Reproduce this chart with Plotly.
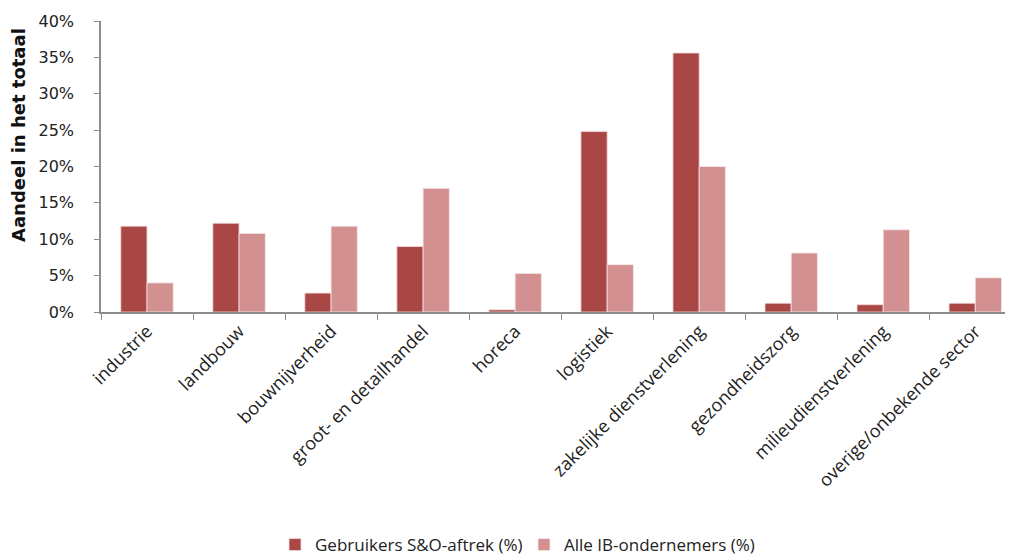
import plotly.graph_objects as go

# Sectoren en aandelen (%)
sectoren = ["industrie", "landbouw", "bouwnijverheid", "groot- en detailhandel", "horeca",
            "logistiek", "zakelijke dienstverlening", "gezondheidszorg",
            "milieudienstverlening", "overige/onbekende sector"]
gebruikers_so = [11.8, 12.2, 2.6, 9.0, 0.3, 24.8, 35.6, 1.2, 1.0, 1.2]
alle_ib = [4.0, 10.8, 11.8, 17.0, 5.3, 6.5, 20.0, 8.1, 11.3, 4.7]
y_ticks = [0, 5, 10, 15, 20, 25, 30, 35, 40]

fig = go.Figure()
fig.add_trace(go.Bar(x=sectoren, y=gebruikers_so, name="Gebruikers S&O-aftrek (%)",
                     marker=dict(color="#A94744", line=dict(color="#F2DADA", width=0.8))))
fig.add_trace(go.Bar(x=sectoren, y=alle_ib, name="Alle IB-ondernemers (%)",
                     marker=dict(color="#D29090", line=dict(color="#F6E6E6", width=0.8))))

# pagina heeft 8px body-marge, dus figuur 8px kleiner
fig.update_layout(
    width=1005, height=549,
    margin=dict(l=93, r=0, t=13, b=245, autoexpand=False),
    plot_bgcolor="white", paper_bgcolor="white",
    barmode="group", bargap=0.43, bargroupgap=0,
    font=dict(family="DejaVu Sans", color="#222"),
    showlegend=True,
    legend=dict(orientation="h", x=(275 - 101) / 912, xanchor="left",
                y=(312 - 545) / 291, yanchor="middle",
                font=dict(family="Open Sans", size=17, color="#222"),
                entrywidth=204, entrywidthmode="pixels", itemwidth=30, traceorder="normal"),
    xaxis=dict(range=[-0.5, 9.41], showline=True, linecolor="#8c8c8c", linewidth=1.5,
               ticks="outside", tickson="boundaries", ticklen=6, tickcolor="#8c8c8c",
               tickangle=-45, tickfont=dict(family="Open Sans", size=18, color="#222"),
               showgrid=False, automargin=False),
    yaxis=dict(range=[0, 40], tickvals=y_ticks, ticktext=[f"{v}%" for v in y_ticks],
               showline=True, linecolor="#8c8c8c", linewidth=1.5, ticks="outside",
               ticklen=5, tickcolor="#8c8c8c", showgrid=False, zeroline=False,
               ticklabelstandoff=17, tickfont=dict(size=16, color="#222"), automargin=False),
    annotations=[dict(text="<b>Aandeel in het totaal</b>", textangle=-90,
                      x=(18 - 101) / 912, xref="paper", xanchor="center",
                      y=(312 - 135) / 291, yref="paper", yanchor="middle", showarrow=False,
                      font=dict(family="DejaVu Sans", size=18, color="#111"))],
)

fig.write_html("out.html")
